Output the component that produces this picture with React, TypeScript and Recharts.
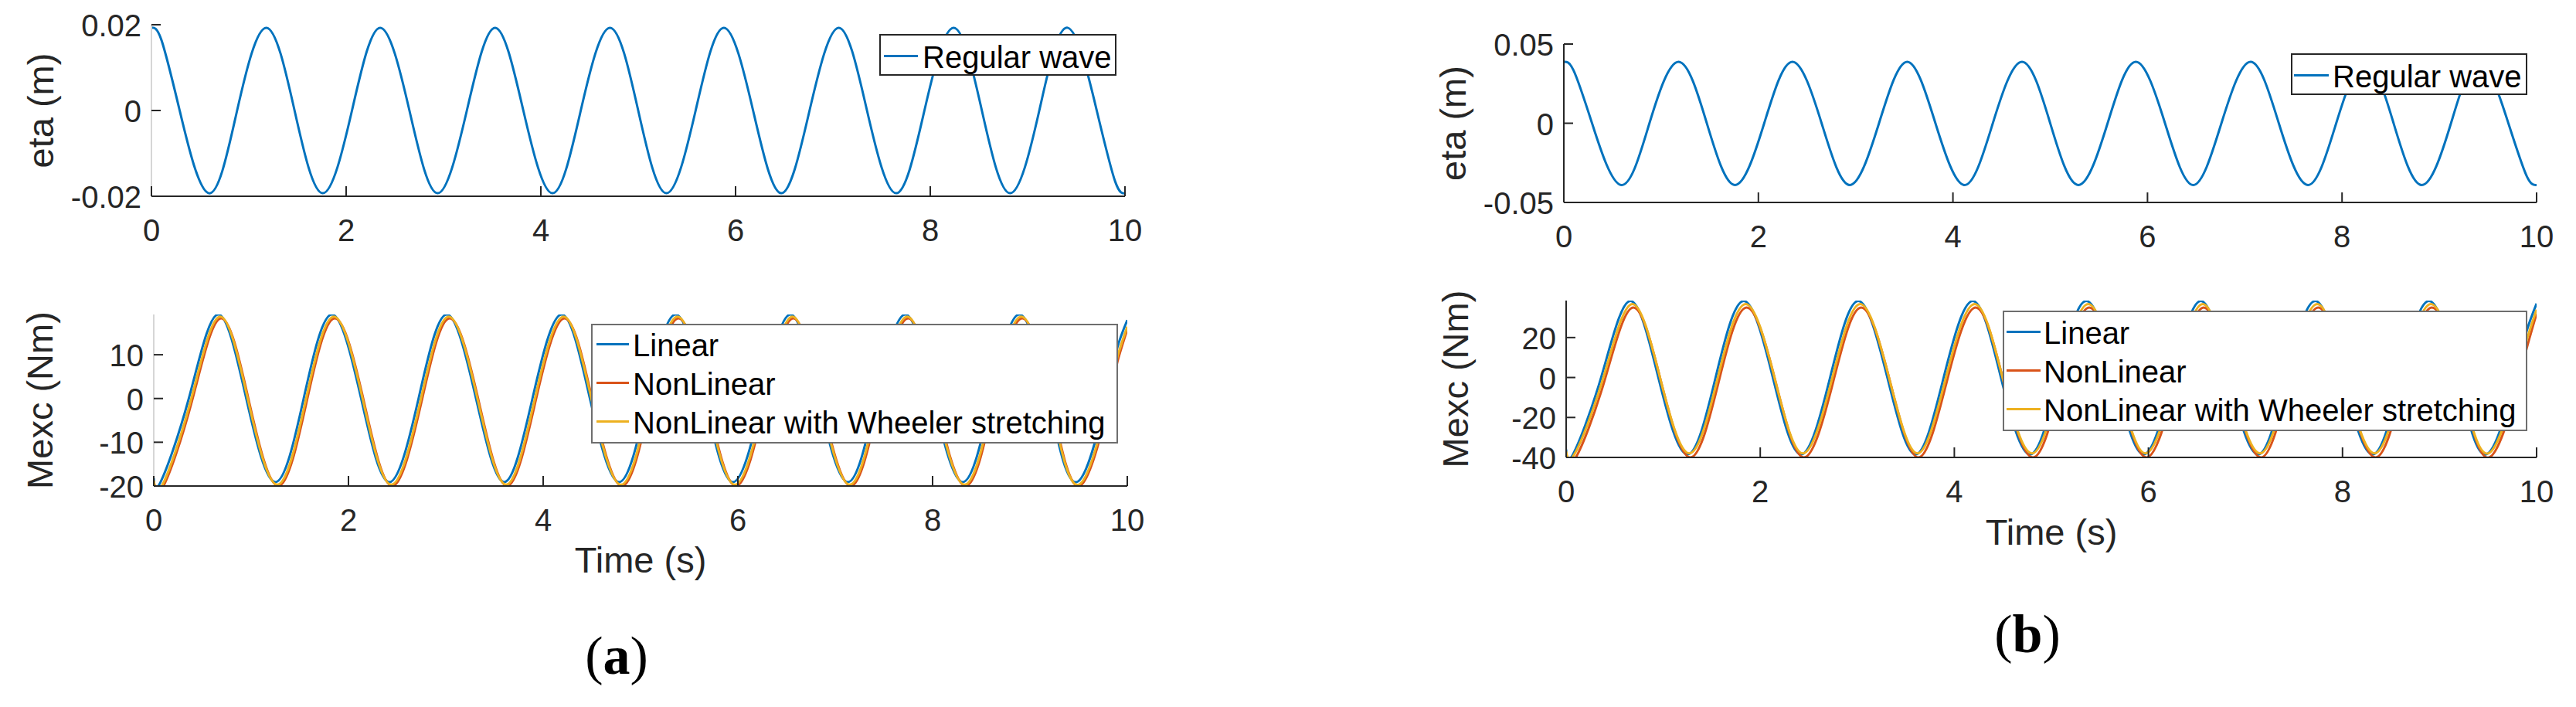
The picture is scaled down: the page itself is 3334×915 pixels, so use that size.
import React from "react";
import { LineChart, Line, XAxis, YAxis } from "recharts";

// ---- data ----
const timeTicks = [0, 2, 4, 6, 8, 10];
const etaTicksA = [-0.02, 0, 0.02];
const etaTicksB = [-0.05, 0, 0.05];
const mexcTicksA = [-20, -10, 0, 10];
const mexcTicksB = [-40, -20, 0, 20];

// wave elevation: crests, zero crossings and troughs (plus a point near each end)
const etaTimes = [
  0, 0.1, 0.29, 0.59, 0.88, 1.18, 1.47, 1.76, 2.06, 2.35, 2.65, 2.94, 3.24,
  3.53, 3.82, 4.12, 4.41, 4.71, 5.0, 5.29, 5.59, 5.88, 6.18, 6.47, 6.76, 7.06,
  7.35, 7.65, 7.94, 8.24, 8.53, 8.82, 9.12, 9.41, 9.71, 9.9, 10,
];
const etaA = [
  0.0193, 0.0166, 0, -0.0193, 0, 0.0193, 0, -0.0193, 0, 0.0193, 0, -0.0193, 0,
  0.0193, 0, -0.0193, 0, 0.0193, 0, -0.0193, 0, 0.0193, 0, -0.0193, 0, 0.0193,
  0, -0.0193, 0, 0.0193, 0, -0.0193, 0, 0.0193, 0, -0.0166, -0.0193,
];
const etaB = [
  0.0388, 0.0334, 0, -0.039, 0, 0.0388, 0, -0.039, 0, 0.0388, 0, -0.039, 0,
  0.0388, 0, -0.039, 0, 0.0388, 0, -0.039, 0, 0.0388, 0, -0.039, 0, 0.0388, 0,
  -0.039, 0, 0.0388, 0, -0.039, 0, 0.0388, 0, -0.0336, -0.039,
];

// excitation moment: start, troughs / zero crossings / crests, end
const linearTimes = [
  0, 0.07, 0.36, 0.66, 0.95, 1.25, 1.54, 1.83, 2.13, 2.42, 2.72, 3.01, 3.31,
  3.6, 3.89, 4.19, 4.48, 4.78, 5.07, 5.36, 5.66, 5.95, 6.25, 6.54, 6.83, 7.13,
  7.42, 7.72, 8.01, 8.31, 8.6, 8.89, 9.19, 9.48, 9.78, 9.9, 10,
];
const nonLinearTimes = [
  0, 0.1, 0.39, 0.69, 0.98, 1.28, 1.57, 1.86, 2.16, 2.45, 2.75, 3.04, 3.34,
  3.63, 3.92, 4.22, 4.51, 4.81, 5.1, 5.39, 5.69, 5.98, 6.28, 6.57, 6.86, 7.16,
  7.45, 7.75, 8.04, 8.34, 8.63, 8.92, 9.22, 9.51, 9.81, 9.9, 10,
];
const wheelerTimes = [
  0, 0.09, 0.38, 0.68, 0.97, 1.27, 1.56, 1.85, 2.15, 2.44, 2.74, 3.03, 3.33,
  3.62, 3.91, 4.21, 4.5, 4.8, 5.09, 5.38, 5.68, 5.97, 6.27, 6.56, 6.85, 7.15,
  7.44, 7.74, 8.03, 8.33, 8.62, 8.91, 9.21, 9.5, 9.8, 9.9, 10,
];

const mexcLinearA = [
  -18.2, -19.1, 0, 19.2, 0, -19.1, 0, 19.2, 0, -19.1, 0, 19.2, 0, -19.1, 0,
  19.2, 0, -19.1, 0, 19.2, 0, -19.1, 0, 19.2, 0, -19.1, 0, 19.2, 0, -19.1, 0,
  19.2, 0, -19.1, 0, 11.8, 17.9,
];
const mexcNonLinearA = [
  -19.0, -20, -0.8, 18.3, -0.8, -20, -0.8, 18.3, -0.8, -20, -0.8, 18.3, -0.8,
  -20, -0.8, 18.3, -0.8, -20, -0.8, 18.3, -0.8, -20, -0.8, 18.3, -0.8, -20,
  -0.8, 18.3, -0.8, -20, -0.8, 18.3, -0.8, -20, -0.8, 8.5, 15.8,
];
const mexcWheelerA = [
  -18.7, -19.7, -0.5, 18.7, -0.5, -19.7, -0.5, 18.7, -0.5, -19.7, -0.5, 18.7,
  -0.5, -19.7, -0.5, 18.7, -0.5, -19.7, -0.5, 18.7, -0.5, -19.7, -0.5, 18.7,
  -0.5, -19.7, -0.5, 18.7, -0.5, -19.7, -0.5, 18.7, -0.5, -19.7, -0.5, 9.6,
  16.4,
];

const mexcLinearB = [
  -36, -38.5, 0, 38.3, 0, -38.5, 0, 38.3, 0, -38.5, 0, 38.3, 0, -38.5, 0, 38.3,
  0, -38.5, 0, 38.3, 0, -38.5, 0, 38.3, 0, -38.5, 0, 38.3, 0, -38.5, 0, 38.3, 0,
  -38.5, 0, 23.6, 37,
];
const mexcNonLinearB = [
  -38.5, -40, -2.5, 35, -2.5, -40, -2.5, 35, -2.5, -40, -2.5, 35, -2.5, -40,
  -2.5, 35, -2.5, -40, -2.5, 35, -2.5, -40, -2.5, 35, -2.5, -40, -2.5, 35, -2.5,
  -40, -2.5, 35, -2.5, -40, -2.5, 15, 32,
];
const mexcWheelerB = [
  -37, -38, -0.6, 36.8, -0.6, -38, -0.6, 36.8, -0.6, -38, -0.6, 36.8, -0.6, -38,
  -0.6, 36.8, -0.6, -38, -0.6, 36.8, -0.6, -38, -0.6, 36.8, -0.6, -38, -0.6,
  36.8, -0.6, -38, -0.6, 36.8, -0.6, -38, -0.6, 19, 34,
];

// ---- styling ----
const BLUE = "#0072BD";
const RED = "#D95319";
const YELLOW = "#EDB120";
const AXIS = "#262626";
const FONT = '"Liberation Sans", Arial, Helvetica, sans-serif';

const toRows = (times: number[], values: number[]) =>
  times.map((t, i) => ({ t, v: values[i] }));

type Series = { name: string; color: string; rows: { t: number; v: number }[] };

const renderXTick = (props: any) => {
  const { x, y, payload } = props;
  return (
    <g>
      <line x1={x} x2={x} y1={y} y2={y - 13} stroke={AXIS} strokeWidth={2} />
      <text
        x={x}
        y={y + 58}
        textAnchor='middle'
        fontSize={40}
        fill={AXIS}
        fontFamily={FONT}
      >
        {payload.value}
      </text>
    </g>
  );
};

const renderYTick = (props: any) => {
  const { x, y, payload } = props;
  return (
    <g>
      <line x1={x} x2={x + 12} y1={y} y2={y} stroke={AXIS} strokeWidth={2} />
      <text
        x={x - 13}
        y={y + 15}
        textAnchor='end'
        fontSize={40}
        fill={AXIS}
        fontFamily={FONT}
      >
        {payload.value}
      </text>
    </g>
  );
};

const AxisTitle = ({
  px,
  py,
  text,
  vertical,
}: {
  px: number;
  py: number;
  text: string;
  vertical?: boolean;
}) => (
  <text
    x={px}
    y={py}
    textAnchor='middle'
    dominantBaseline={vertical ? "central" : "auto"}
    transform={vertical ? `rotate(-90 ${px} ${py})` : undefined}
    fontSize={47}
    fill={AXIS}
    fontFamily={FONT}
  >
    {text}
  </text>
);

type PanelProps = {
  left: number;
  top: number;
  width: number;
  height: number;
  plot: { x0: number; x1: number; y0: number; y1: number }; // plot box in panel coords
  yDomain: [number, number];
  yTicks: number[];
  yLabel: string;
  yLabelX: number;
  yAxisColor: string;
  series: Series[];
  xLabelY?: number;
};

// axes need a non-zero size to render, so give them 1px and take it off the margins
const Panel = ({
  left,
  top,
  width,
  height,
  plot,
  yDomain,
  yTicks,
  yLabel,
  yLabelX,
  yAxisColor,
  series,
  xLabelY,
}: PanelProps) => {
  const margin = {
    top: plot.y0,
    right: width - plot.x1,
    bottom: height - plot.y1 - 1,
    left: plot.x0 - 1,
  };
  const plotMidY = (plot.y0 + plot.y1) / 2;
  const plotMidX = (plot.x0 + plot.x1) / 2;
  return (
    <div style={{ position: "absolute", left, top, width, height }}>
      <LineChart width={width} height={height} margin={margin}>
        <XAxis
          dataKey='t'
          type='number'
          domain={[0, 10]}
          ticks={timeTicks}
          interval={0}
          allowDataOverflow
          height={1}
          tickSize={0}
          tickMargin={0}
          tickLine={false}
          axisLine={{ stroke: AXIS, strokeWidth: 2 }}
          tick={renderXTick}
          label={
            xLabelY !== undefined ? (
              <AxisTitle px={plotMidX} py={xLabelY} text='Time (s)' />
            ) : undefined
          }
        />
        <YAxis
          type='number'
          domain={yDomain}
          ticks={yTicks}
          interval={0}
          allowDataOverflow
          width={1}
          tickSize={0}
          tickMargin={0}
          tickLine={false}
          axisLine={{ stroke: yAxisColor, strokeWidth: 2 }}
          tick={renderYTick}
          label={<AxisTitle px={yLabelX} py={plotMidY} text={yLabel} vertical />}
        />
        {series.map((s) => (
          <Line
            key={s.name}
            data={s.rows}
            dataKey='v'
            name={s.name}
            type='natural'
            stroke={s.color}
            strokeWidth={3}
            dot={false}
            activeDot={false}
            isAnimationActive={false}
          />
        ))}
      </LineChart>
    </div>
  );
};

type LegendEntry = { label: string; color: string };

const LegendBox = ({
  left,
  top,
  width,
  height,
  entries,
  rows,
  lineStart,
  lineEnd,
  textStart,
  border,
}: {
  left: number;
  top: number;
  width: number;
  height: number;
  entries: LegendEntry[];
  rows: number[];
  lineStart: number;
  lineEnd: number;
  textStart: number;
  border: string;
}) => (
  <div
    style={{
      position: "absolute",
      left,
      top,
      width,
      height,
      boxSizing: "border-box",
      border,
      background: "#fff",
      zIndex: 2,
    }}
  >
    {entries.map((e, i) => (
      <React.Fragment key={e.label}>
        <div
          style={{
            position: "absolute",
            left: lineStart,
            top: rows[i] - 1.5,
            width: lineEnd - lineStart,
            height: 3,
            background: e.color,
          }}
        />
        <div
          style={{
            position: "absolute",
            left: textStart,
            top: rows[i] - 21,
            height: 46,
            lineHeight: "46px",
            fontSize: 40,
            fontFamily: FONT,
            color: "#000",
            whiteSpace: "nowrap",
          }}
        >
          {e.label}
        </div>
      </React.Fragment>
    ))}
  </div>
);

const Caption = ({ cx, top, letter }: { cx: number; top: number; letter: string }) => (
  <div
    style={{
      position: "absolute",
      left: cx - 100,
      top,
      width: 200,
      textAlign: "center",
      fontFamily: '"Liberation Serif", "Times New Roman", serif',
      fontSize: 70,
      lineHeight: "70px",
      color: "#000",
    }}
  >
    (<b>{letter}</b>)
  </div>
);

const waveEntries: LegendEntry[] = [{ label: "Regular wave", color: BLUE }];
const mexcEntries: LegendEntry[] = [
  { label: "Linear", color: BLUE },
  { label: "NonLinear", color: RED },
  { label: "NonLinear with Wheeler stretching", color: YELLOW },
];

export default function App() {
  const etaSeriesA: Series[] = [
    { name: "Regular wave", color: BLUE, rows: toRows(etaTimes, etaA) },
  ];
  const etaSeriesB: Series[] = [
    { name: "Regular wave", color: BLUE, rows: toRows(etaTimes, etaB) },
  ];
  const mexcSeriesA: Series[] = [
    { name: "Linear", color: BLUE, rows: toRows(linearTimes, mexcLinearA) },
    { name: "NonLinear", color: RED, rows: toRows(nonLinearTimes, mexcNonLinearA) },
    { name: "Wheeler", color: YELLOW, rows: toRows(wheelerTimes, mexcWheelerA) },
  ];
  const mexcSeriesB: Series[] = [
    { name: "Linear", color: BLUE, rows: toRows(linearTimes, mexcLinearB) },
    { name: "NonLinear", color: RED, rows: toRows(nonLinearTimes, mexcNonLinearB) },
    { name: "Wheeler", color: YELLOW, rows: toRows(wheelerTimes, mexcWheelerB) },
  ];

  return (
    <div
      style={{
        position: "absolute",
        left: 0,
        top: 0,
        width: 3334,
        height: 915,
        background: "#fff",
        overflow: "hidden",
      }}
    >
      {/* (a) */}
      <Panel
        left={0}
        top={0}
        width={1500}
        height={340}
        plot={{ x0: 196, x1: 1456, y0: 32, y1: 254 }}
        yDomain={[-0.02, 0.02]}
        yTicks={etaTicksA}
        yLabel='eta (m)'
        yLabelX={52}
        yAxisColor='#d6d6d6'
        series={etaSeriesA}
      />
      <Panel
        left={0}
        top={380}
        width={1500}
        height={535}
        plot={{ x0: 199, x1: 1459, y0: 27, y1: 249 }}
        yDomain={[-20, 19.2]}
        yTicks={mexcTicksA}
        yLabel='Mexc (Nm)'
        yLabelX={51}
        yAxisColor='#d6d6d6'
        series={mexcSeriesA}
        xLabelY={361}
      />
      <LegendBox
        left={1138}
        top={44}
        width={307}
        height={54}
        entries={waveEntries}
        rows={[26]}
        lineStart={4}
        lineEnd={48}
        textStart={54}
        border={`2px solid ${AXIS}`}
      />
      <LegendBox
        left={765}
        top={419}
        width={682}
        height={155}
        entries={mexcEntries}
        rows={[24, 74, 124]}
        lineStart={5}
        lineEnd={47}
        textStart={52}
        border='2px solid #6e6e6e'
      />
      <Caption cx={798} top={814} letter='a' />

      {/* (b) */}
      <Panel
        left={1800}
        top={0}
        width={1534}
        height={340}
        plot={{ x0: 224, x1: 1483, y0: 57, y1: 262 }}
        yDomain={[-0.05, 0.05]}
        yTicks={etaTicksB}
        yLabel='eta (m)'
        yLabelX={80}
        yAxisColor={AXIS}
        series={etaSeriesB}
      />
      <Panel
        left={1800}
        top={360}
        width={1534}
        height={555}
        plot={{ x0: 227, x1: 1483, y0: 29, y1: 232 }}
        yDomain={[-40, 38.5]}
        yTicks={mexcTicksB}
        yLabel='Mexc (Nm)'
        yLabelX={83}
        yAxisColor={AXIS}
        series={mexcSeriesB}
        xLabelY={345}
      />
      <LegendBox
        left={2965}
        top={69}
        width={306}
        height={54}
        entries={waveEntries}
        rows={[26]}
        lineStart={2}
        lineEnd={47}
        textStart={52}
        border={`2px solid ${AXIS}`}
      />
      <LegendBox
        left={2592}
        top={402}
        width={679}
        height={156}
        entries={mexcEntries}
        rows={[25, 75, 125]}
        lineStart={3}
        lineEnd={47}
        textStart={51}
        border='2px solid #6e6e6e'
      />
      <Caption cx={2624} top={786} letter='b' />
    </div>
  );
}
